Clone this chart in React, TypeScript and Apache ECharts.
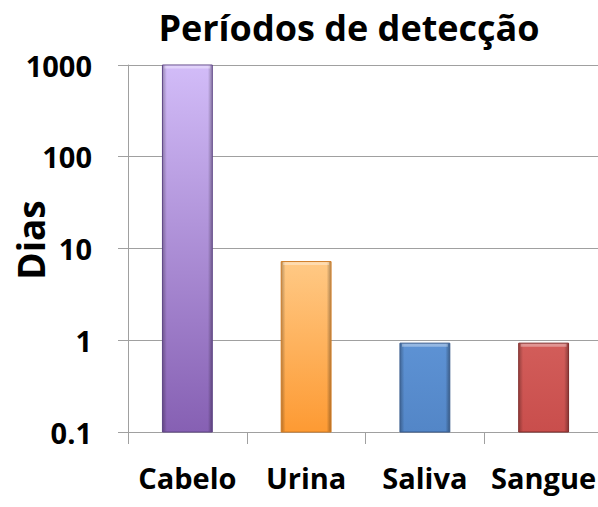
import React, { useEffect, useRef } from "react";
import * as echarts from "echarts";

const categories = ["Cabelo", "Urina", "Saliva", "Sangue"];
const values = [1000, 7.2, 0.93, 0.93];
const yTicks = [0.1, 1, 10, 100, 1000];
const titleText = "Períodos de detecção";
const yName = "Dias";

const topColors = ["#d2bcf8", "#ffc985", "#5d92d4", "#d25d5a"];
const bottomColors = ["#8660b3", "#fd9a33", "#5386c7", "#c94e4c"];
const strokeColors = ["#5e4585", "#d07a22", "#37598a", "#7d2a29"];

export default function App() {
  const ref = useRef<HTMLDivElement>(null);
  useEffect(() => {
    document.body.style.margin = "0";
    const chart = echarts.init(ref.current!, null, { renderer: "svg" });
    const font = "Open Sans";
    chart.setOption({
      animation: false,
      title: {
        text: titleText,
        left: 344,
        top: 4,
        textAlign: "center",
        textStyle: { fontFamily: font, fontWeight: "bold", fontSize: 36, color: "#000" },
      },
      graphic: [
        {
          type: "text",
          x: 30,
          y: 240,
          rotation: Math.PI / 2,
          style: {
            text: yName,
            textAlign: "center",
            textVerticalAlign: "middle",
            fontFamily: font,
            fontWeight: "bold",
            fontSize: 37,
            fill: "#000",
          },
        },
      ],
      grid: { left: 128, right: -5, top: 65, bottom: 75, containLabel: false, outerBoundsMode: "none" },
      xAxis: {
        type: "category",
        data: categories,
        axisLine: { lineStyle: { color: "#a0a0a0", width: 1 } },
        axisTick: { show: true, length: 12, lineStyle: { color: "#a0a0a0" } },
        axisLabel: {
          interval: 0,
          margin: 31,
          fontFamily: font,
          fontWeight: "bold",
          fontSize: 29,
          color: "#000",
        },
      },
      yAxis: {
        type: "log",
        logBase: 10,
        min: yTicks[0],
        max: yTicks[yTicks.length - 1],
        axisLine: { show: true, lineStyle: { color: "#a0a0a0", width: 1 } },
        axisTick: { show: true, length: 10, lineStyle: { color: "#a0a0a0" } },
        splitLine: { show: true, lineStyle: { color: "#a0a0a0", width: 1 } },
        axisLabel: {
          margin: 36,
          fontFamily: font,
          fontWeight: "bold",
          fontSize: 29,
          color: "#000",
          formatter: (v: number) => (v < 1 ? v.toFixed(1) : String(Math.round(v))),
        },
      },
      series: [
        {
          type: "custom",
          data: values.map((v, i) => [i, v]),
          renderItem: (params: any, api: any) => {
            const i = api.value(0);
            const v = api.value(1);
            const top = api.coord([i, v]);
            const base = api.coord([i, yTicks[0]]);
            const band = api.coord([1, 1])[0] - api.coord([0, 1])[0];
            const w = band * 0.42;
            const x = top[0] - w / 2;
            const y = top[1];
            const h = base[1] - top[1];
            return {
              type: "group",
              children: [
                {
                  type: "rect",
                  shape: { x, y, width: w, height: h },
                  style: {
                    fill: new echarts.graphic.LinearGradient(0, 0, 0, 1, [
                      { offset: 0, color: topColors[i] },
                      { offset: 1, color: bottomColors[i] },
                    ]),
                    stroke: strokeColors[i],
                    lineWidth: 1,
                  },
                },
                {
                  type: "rect",
                  shape: { x: x + 0.5, y: y + 0.5, width: w - 1, height: h - 1 },
                  style: {
                    fill: new echarts.graphic.LinearGradient(0, 0, 1, 0, [
                      { offset: 0, color: "rgba(0,0,0,0.25)" },
                      { offset: 0.08, color: "rgba(0,0,0,0)" },
                      { offset: 0.92, color: "rgba(0,0,0,0)" },
                      { offset: 1, color: "rgba(0,0,0,0.3)" },
                    ]),
                  },
                },
                {
                  type: "rect",
                  shape: { x: x + 2, y: y + 0.5, width: w - 4, height: 3 },
                  style: { fill: "rgba(255,255,255,0.35)" },
                },
              ],
            };
          },
        },
      ],
    });
    return () => chart.dispose();
  }, []);
  return <div ref={ref} style={{ width: 598, height: 507 }} />;
}
